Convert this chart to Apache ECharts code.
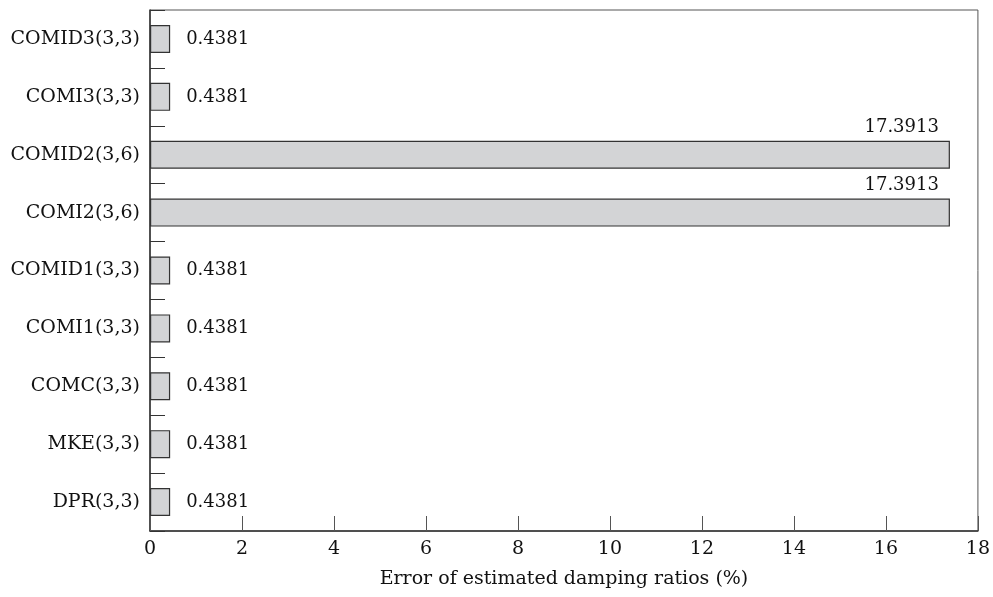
<!DOCTYPE html>
<html>
<head>
<meta charset="utf-8">
<script src="https://cdn.jsdelivr.net/npm/echarts@6/dist/echarts.min.js"></script>
<style>
  html, body { margin: 0; padding: 0; background: #fff; }
  #chart { width: 993px; height: 597px; }
</style>
</head>
<body>
<div id="chart"></div>
<script>
// Methods, listed bottom to top as they appear on the vertical axis
const methods = ['DPR(3,3)', 'MKE(3,3)', 'COMC(3,3)', 'COMI1(3,3)', 'COMID1(3,3)',
                 'COMI2(3,6)', 'COMID2(3,6)', 'COMI3(3,3)', 'COMID3(3,3)'];
// Error of estimated damping ratios (%)
const errors = [0.4381, 0.4381, 0.4381, 0.4381, 0.4381, 17.3913, 17.3913, 0.4381, 0.4381];
// Horizontal axis ticks
const xTicks = [0, 2, 4, 6, 8, 10, 12, 14, 16, 18];

const FONT = '"DejaVu Serif", serif';
const INK = '#111';

const chart = echarts.init(document.getElementById('chart'), null, { renderer: 'canvas' });

// Long bars carry their value above the bar end; short bars to the right
const seriesData = errors.map(v => {
  const big = v > 10;
  return {
    value: v,
    label: big
      ? { position: ['100%', 0], align: 'right', verticalAlign: 'bottom', offset: [-11, -4] }
      : { position: 'right', distance: 16 }
  };
});

chart.setOption({
  animation: false,
  grid: {
    left: 150, right: 15, top: 10, bottom: 66,
    show: true, borderColor: '#555', borderWidth: 1, backgroundColor: 'transparent'
  },
  xAxis: {
    type: 'value',
    min: xTicks[0], max: xTicks[xTicks.length - 1], interval: 2,
    name: 'Error of estimated damping ratios (%)',
    nameLocation: 'middle', nameGap: 39,
    nameTextStyle: { fontFamily: FONT, fontSize: 19, color: INK },
    axisLine: { show: true, lineStyle: { color: '#333', width: 1.5 } },
    axisTick: { show: true, inside: true, length: 15, lineStyle: { color: '#555' } },
    axisLabel: { fontFamily: FONT, fontSize: 19, color: INK, margin: 9 },
    splitLine: { show: false }
  },
  yAxis: {
    type: 'category',
    data: methods,
    axisLine: { show: true, lineStyle: { color: '#333', width: 1.5 } },
    axisTick: { show: true, inside: true, length: 15, lineStyle: { color: '#333' } },
    axisLabel: { fontFamily: FONT, fontSize: 19, color: INK, margin: 10 },
    splitLine: { show: false }
  },
  series: [{
    type: 'bar',
    data: seriesData,
    barWidth: 28,
    itemStyle: { color: '#d3d4d6', borderColor: '#333', borderWidth: 1.2 },
    label: {
      show: true,
      fontFamily: FONT, fontSize: 18, color: INK,
      formatter: p => p.value.toFixed(4)
    }
  }]
});
</script>
</body>
</html>
